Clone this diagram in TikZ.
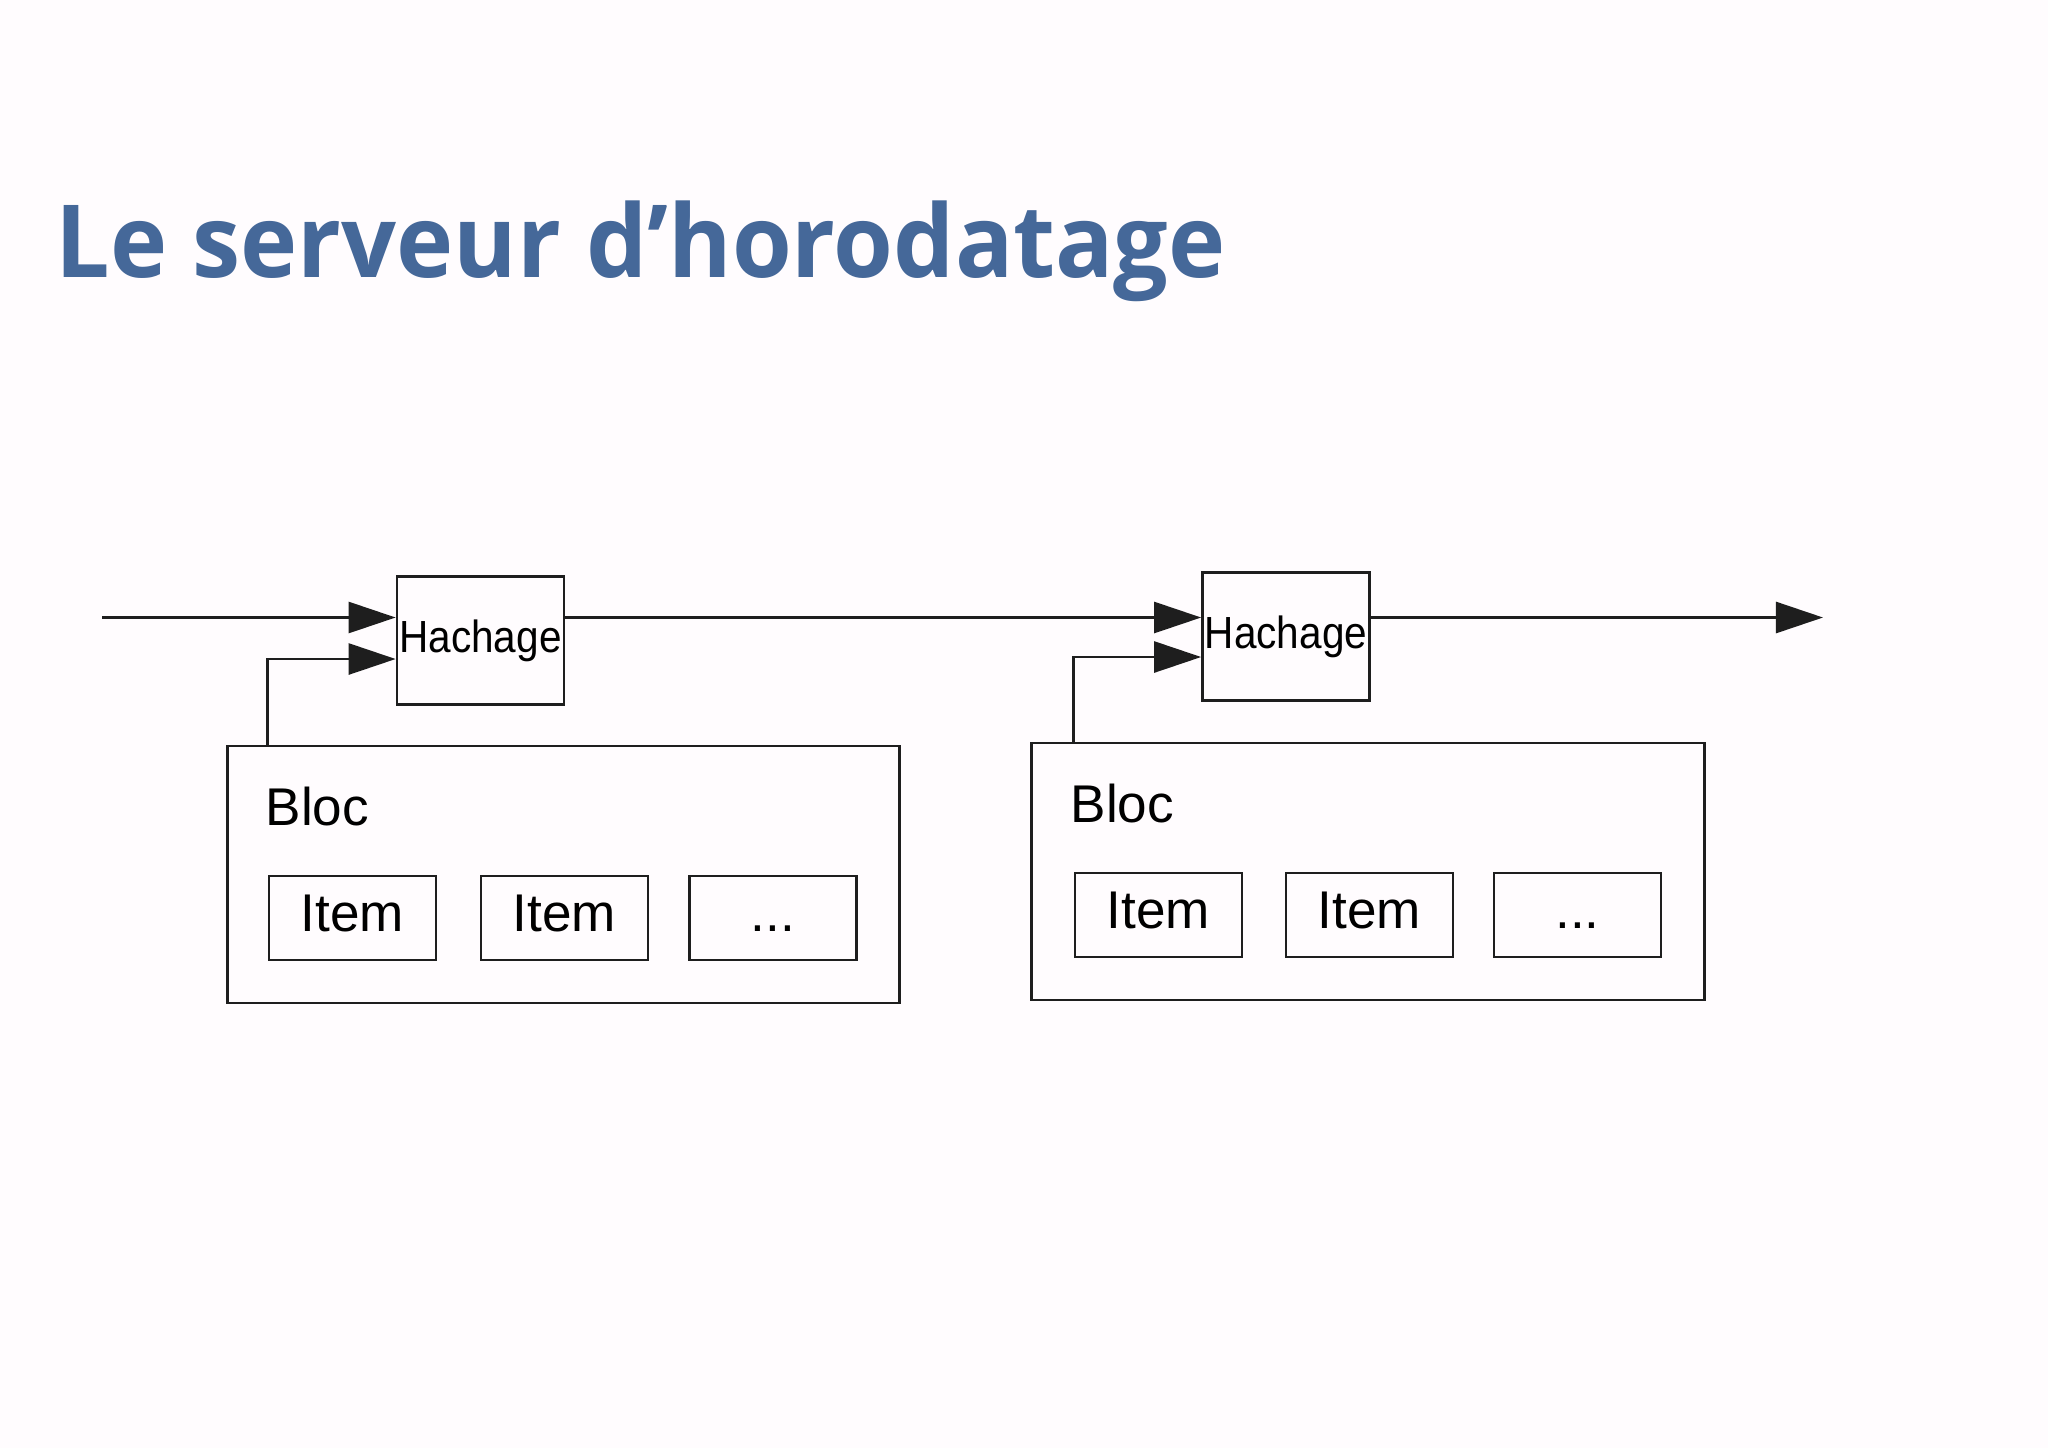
\documentclass[tikz,border=0pt]{standalone}
\usepackage{fontspec}
\setmainfont{Liberation Sans}
\newfontfamily\titlefont{Open Sans}
\usetikzlibrary{arrows.meta}
\definecolor{titleblue}{RGB}{69,104,153}
\definecolor{ink}{RGB}{30,30,30}

\begin{document}
\begin{tikzpicture}[x=0.01cm,y=-0.01cm]
	\tikzstyle{box}=[draw=ink,line width=0.75pt,rectangle,inner sep=0pt]
	\tikzstyle{hashbox}=[box,minimum width=1.67cm,minimum height=1.28cm,font=\fontsize{12.8}{14}\selectfont]
	\tikzstyle{itembox}=[box,minimum width=1.67cm,minimum height=0.84cm,text height=0.74em,text depth=0pt,font=\fontsize{15.1}{17}\selectfont]
	\tikzstyle{blocbox}=[box,minimum width=6.72cm,minimum height=2.57cm]
	\tikzstyle{link}=[draw=ink,line width=0.75pt,-{Triangle[length=0.47cm,width=0.31cm]}]
	\fill[white!99!magenta] (0,0) rectangle (2048,1448);
	\useasboundingbox (0,0) rectangle (2048,1448);
	\node (title) [anchor=base west,inner sep=0pt,text=titleblue,font=\titlefont\bfseries\fontsize{28.7}{32}\selectfont] at (55,277) {\scalebox{0.958}[1]{Le serveur d’horodatage}};
	% premier bloc
	\node (hash1) [hashbox] at (480.5,640.5) {\scalebox{0.9}[1]{Hachage}};
	\node (bloc1) [blocbox] at (563.5,874.5) {};
	\node (lab1) [anchor=base west,font=\fontsize{15.1}{17}\selectfont,inner sep=0pt] at (265,825) {Bloc};
	\node (item11) [itembox] at (352.5,918) {Item};
	\node (item12) [itembox] at (564.5,918) {Item};
	\node (item13) [itembox] at (773,918) {...};
	% second bloc
	\node (hash2) [hashbox] at (1286,636.5) {\scalebox{0.9}[1]{Hachage}};
	\node (bloc2) [blocbox] at (1368,871.5) {};
	\node (lab2) [anchor=base west,font=\fontsize{15.1}{17}\selectfont,inner sep=0pt] at (1070,822) {Bloc};
	\node (item21) [itembox] at (1158.5,915) {Item};
	\node (item22) [itembox] at (1369.5,915) {Item};
	\node (item23) [itembox] at (1577.5,915) {...};
	\coordinate (in) at (102,617.5);
	\coordinate (out) at (1823,617.5);
	% chaine
	\draw[link] (in) -- (in -| hash1.west);
	\draw[link] (in -| hash1.east) -- (in -| hash2.west);
	\draw[link] (in -| hash2.east) -- (out);
	\draw[link] (item11.west |- bloc1.north) |- ([yshift=-0.185cm]hash1.west);
	\draw[link] (item21.west |- bloc2.north) |- ([yshift=-0.205cm]hash2.west);
\end{tikzpicture}
\end{document}
